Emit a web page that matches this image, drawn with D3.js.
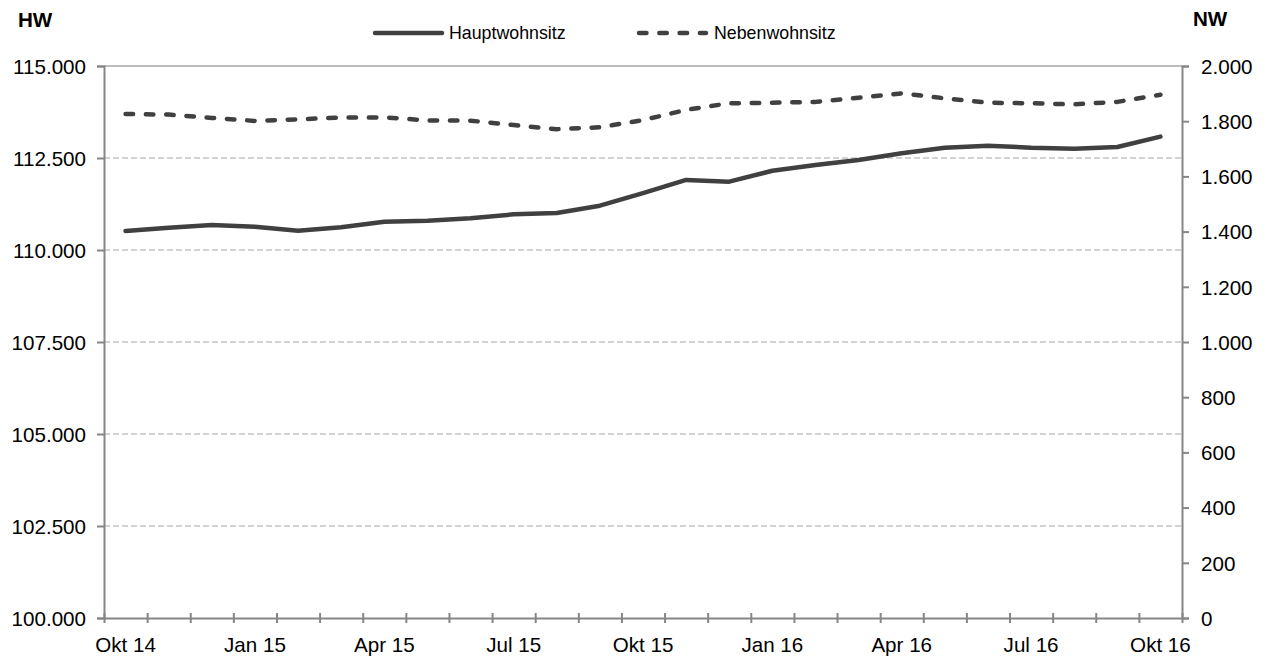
<!DOCTYPE html>
<html><head><meta charset="utf-8">
<script src="https://cdn.jsdelivr.net/npm/d3@7"></script>
<style>
html,body{margin:0;padding:0;background:#fff;}
svg text{font-family:"Liberation Sans",Arial,sans-serif;fill:#000;}
</style></head>
<body><svg id="c" width="1274" height="657"></svg>
<script>
const months = ["Okt 14","Nov 14","Dez 14","Jan 15","Feb 15","Mär 15","Apr 15","Mai 15","Jun 15","Jul 15","Aug 15","Sep 15","Okt 15","Nov 15","Dez 15","Jan 16","Feb 16","Mär 16","Apr 16","Mai 16","Jun 16","Jul 16","Aug 16","Sep 16","Okt 16"];
const labelMonths = ["Okt 14","Jan 15","Apr 15","Jul 15","Okt 15","Jan 16","Apr 16","Jul 16","Okt 16"];
const hauptwohnsitz = [110517,110607,110680,110634,110525,110617,110770,110797,110861,110970,111006,111204,111544,111903,111857,112155,112310,112446,112627,112781,112835,112781,112753,112799,113080];
const nebenwohnsitz = [1826,1824,1812,1801,1807,1813,1814,1803,1802,1786,1771,1778,1804,1841,1865,1867,1870,1885,1901,1883,1867,1865,1861,1870,1896];
const leftTicks = [100000,102500,105000,107500,110000,112500,115000];
const rightTicks = [0,200,400,600,800,1000,1200,1400,1600,1800,2000];
const seriesNames = ["Hauptwohnsitz","Nebenwohnsitz"];

const L = 104, R = 1182, T = 66, B = 618;
const svg = d3.select("#c");
const de = d3.formatLocale({decimal:",",thousands:".",grouping:[3],currency:["","€"]});
const fmt = de.format(",.0f");

const x = d3.scaleBand().domain(months).range([L,R]).padding(0);
const xi = d3.scaleLinear().domain([0,months.length]).range([L,R]);
const yL = d3.scaleLinear().domain([100000,115000]).range([B,T]);
const yR = d3.scaleLinear().domain([0,2000]).range([B,T]);
const cx = m => x(m) + x.bandwidth()/2;

// gridlines
svg.append("g").selectAll("line").data(leftTicks.filter(v=>v>100000 && v<115000)).join("line")
  .attr("x1",L).attr("x2",R).attr("y1",d=>yL(d)).attr("y2",d=>yL(d))
  .attr("stroke","#c4c4c4").attr("stroke-width",1.6).attr("stroke-dasharray","6,3");
svg.append("line").attr("x1",L).attr("x2",R).attr("y1",yL(115000)).attr("y2",yL(115000))
  .attr("stroke","#a6a6a6").attr("stroke-width",1.6);

const axisColor = "#868686";
const gl = svg.append("g").attr("transform",`translate(${L},0)`)
  .call(d3.axisLeft(yL).tickValues(leftTicks).tickFormat(fmt).tickSize(7).tickPadding(11));
const gr = svg.append("g").attr("transform",`translate(${R},0)`)
  .call(d3.axisRight(yR).tickValues(rightTicks).tickFormat(fmt).tickSize(7).tickPadding(12));
const gb = svg.append("g").attr("transform",`translate(0,${B})`)
  .call(d3.axisBottom(xi).tickValues(d3.range(months.length+1)).tickFormat("").tickSize(5).tickSizeOuter(0));
gb.selectAll(".tick line").attr("y1",-5);
const gbl = svg.append("g").attr("transform",`translate(0,${B})`)
  .call(d3.axisBottom(x).tickValues(labelMonths).tickSize(0).tickPadding(19));
gbl.select(".domain").remove();

[gl,gr,gb].forEach(g=>{
  g.select(".domain").attr("stroke",axisColor).attr("stroke-width",2);
  g.selectAll(".tick line").attr("stroke",axisColor).attr("stroke-width",2);
});
svg.selectAll(".tick text").attr("font-size",20.6).attr("font-family","Liberation Sans, Arial, sans-serif").attr("fill","#000");
gl.selectAll(".tick text").attr("dy","0.35em");
gr.selectAll(".tick text").attr("dy","0.35em");

const lineH = d3.line().x((d,i)=>cx(months[i])).y(d=>yL(d));
const lineN = d3.line().x((d,i)=>cx(months[i])).y(d=>yR(d));
const lineColor = "#404040";
svg.append("path").datum(hauptwohnsitz).attr("d",lineH).attr("fill","none")
  .attr("stroke",lineColor).attr("stroke-width",4.5).attr("stroke-linejoin","round").attr("stroke-linecap","round");
svg.append("path").datum(nebenwohnsitz).attr("d",lineN).attr("fill","none")
  .attr("stroke",lineColor).attr("stroke-width",4.5).attr("stroke-linejoin","round").attr("stroke-linecap","round")
  .attr("stroke-dasharray","7.5,12.8");

svg.append("text").attr("x",18).attr("y",27).attr("font-size",20.6).attr("font-weight","bold").text("HW");
svg.append("text").attr("x",1193).attr("y",26).attr("font-size",20.6).attr("font-weight","bold").text("NW");

const leg = [
  {name:seriesNames[0], x1:375, x2:442, tx:449, dash:null},
  {name:seriesNames[1], x1:639, x2:706, tx:714, dash:"7.5,12.8"}
];
leg.forEach(l=>{
  svg.append("line").attr("x1",l.x1).attr("x2",l.x2).attr("y1",33).attr("y2",33)
    .attr("stroke",lineColor).attr("stroke-width",4.5).attr("stroke-linecap","round")
    .attr("stroke-dasharray",l.dash);
  svg.append("text").attr("x",l.tx).attr("y",39).attr("font-size",17.8).text(l.name);
});
</script></body></html>
